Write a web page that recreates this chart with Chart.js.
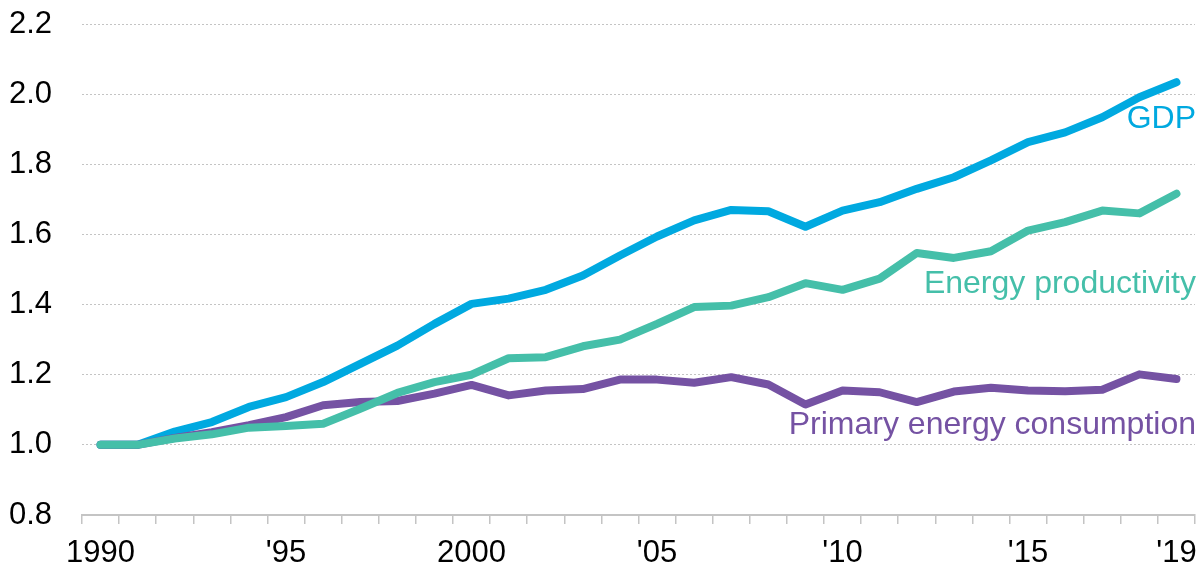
<!DOCTYPE html>
<html>
<head>
<meta charset="utf-8">
<script src="https://cdn.jsdelivr.net/npm/chart.js@4/dist/chart.umd.min.js"></script>
<style>
  html, body { margin: 0; padding: 0; background: #fff; }
  #wrap { width: 1198px; height: 565px; }
</style>
</head>
<body>
<div id="wrap"><canvas id="chart"></canvas></div>
<script>
"use strict";

// years on the x axis
var years = [1990, 1991, 1992, 1993, 1994, 1995, 1996, 1997, 1998, 1999,
             2000, 2001, 2002, 2003, 2004, 2005, 2006, 2007, 2008, 2009,
             2010, 2011, 2012, 2013, 2014, 2015, 2016, 2017, 2018, 2019];

// shown labels, one per year (blank = no label)
var tickLabels = ["1990", "", "", "", "", "'95", "", "", "", "",
                  "2000", "", "", "", "", "'05", "", "", "", "",
                  "'10", "", "", "", "", "'15", "", "", "", "'19"];

// index values, 1990 = 1.0
var gdp = [1.000, 1.000, 1.038, 1.065, 1.108, 1.136, 1.179, 1.231, 1.283, 1.345,
           1.402, 1.417, 1.442, 1.483, 1.540, 1.594, 1.640, 1.670, 1.666, 1.622,
           1.668, 1.692, 1.730, 1.763, 1.811, 1.863, 1.891, 1.934, 1.991, 2.034];

var energyProductivity = [1.000, 1.000, 1.018, 1.030, 1.049, 1.054, 1.060, 1.103, 1.148, 1.179,
                          1.200, 1.247, 1.250, 1.281, 1.300, 1.345, 1.393, 1.397, 1.421, 1.461,
                          1.442, 1.474, 1.547, 1.533, 1.552, 1.611, 1.635, 1.668, 1.660, 1.716];

var primaryEnergy = [1.000, 1.000, 1.020, 1.036, 1.056, 1.079, 1.113, 1.122, 1.125, 1.146,
                     1.171, 1.141, 1.155, 1.159, 1.186, 1.186, 1.177, 1.193, 1.172, 1.115,
                     1.155, 1.150, 1.122, 1.152, 1.163, 1.155, 1.153, 1.157, 1.201, 1.188];

var BLUE = "#00a9e0";
var TEAL = "#45bfa9";
var PURPLE = "#7552a3";
var FONT = "'Liberation Sans', Arial, sans-serif";

// series name labels, placed at the right edge next to each line
var seriesLabels = [
    { text: "GDP", value: 1.93, color: BLUE },
    { text: "Energy productivity", value: 1.457, color: TEAL },
    { text: "Primary energy consumption", value: 1.055, color: PURPLE }
];

var labelPlugin = {
    id: "seriesLabels",
    afterDatasetsDraw: function (chart) {
        var ctx = chart.ctx;
        var y = chart.scales.y;
        ctx.save();
        ctx.font = "32px " + FONT;
        ctx.textAlign = "right";
        ctx.textBaseline = "middle";
        seriesLabels.forEach(function (l) {
            ctx.fillStyle = l.color;
            ctx.fillText(l.text, 1196, y.getPixelForValue(l.value));
        });
        ctx.restore();
    }
};

function lineSet(label, data, color, order) {
    return {
        label: label,
        data: data,
        borderColor: color,
        backgroundColor: color,
        borderWidth: 8,
        borderCapStyle: "round",
        borderJoinStyle: "round",
        pointRadius: 0,
        tension: 0,
        fill: false,
        order: order
    };
}

new Chart(document.getElementById("chart"), {
    type: "line",
    data: {
        labels: years,
        datasets: [
            lineSet("Energy productivity", energyProductivity, TEAL, 0),
            lineSet("Primary energy consumption", primaryEnergy, PURPLE, 1),
            lineSet("GDP", gdp, BLUE, 2)
        ]
    },
    options: {
        responsive: true,
        maintainAspectRatio: false,
        animation: false,
        layout: { padding: { top: 24, right: 3, left: 0, bottom: 0 } },
        plugins: {
            legend: { display: false },
            tooltip: { enabled: false }
        },
        scales: {
            x: {
                type: "category",
                offset: true,
                afterFit: function (scale) {
                    scale.height = 50;
                    scale.paddingLeft = 0;
                    scale.paddingRight = 0;
                },
                grid: {
                    offset: true,
                    drawOnChartArea: false,
                    drawTicks: true,
                    tickLength: 9,
                    color: "#c4c4c4",
                    lineWidth: 1.5
                },
                border: { display: true, color: "#c4c4c4", width: 2 },
                ticks: {
                    autoSkip: false,
                    maxRotation: 0,
                    padding: 11,
                    color: "#000",
                    font: { family: FONT, size: 31 },
                    callback: function (v, i) { return tickLabels[i]; }
                }
            },
            y: {
                min: 0.8,
                max: 2.2,
                afterFit: function (scale) { scale.width = 82; },
                grid: {
                    drawTicks: true,
                    tickLength: 30,
                    tickColor: "rgba(0,0,0,0)",
                    color: "#c4c4c4",
                    lineWidth: 1
                },
                border: { display: false, dash: [2, 2] },
                ticks: {
                    stepSize: 0.2,
                    padding: 0,
                    color: "#000",
                    font: { family: FONT, size: 31 },
                    callback: function (v) { return v.toFixed(1); }
                }
            }
        }
    },
    plugins: [labelPlugin]
});
</script>
</body>
</html>
